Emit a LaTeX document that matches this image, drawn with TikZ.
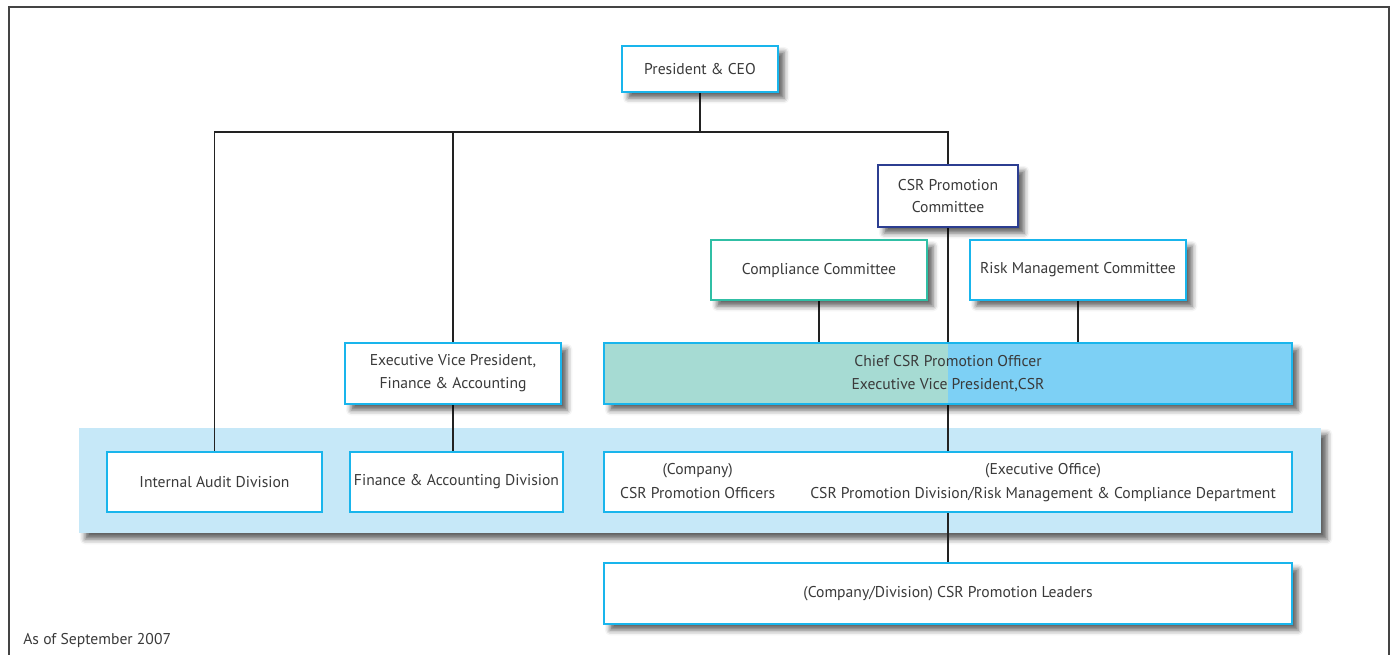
\documentclass[tikz,border=0pt]{standalone}
\usepackage{fontspec}
\setmainfont{PT Sans}
\usetikzlibrary{shadows.blur}
\pgfdeclarelayer{wires}
\pgfdeclarelayer{front}
\pgfsetlayers{main,wires,front}

\definecolor{cyanline}{HTML}{19B5EC}
\definecolor{navyline}{HTML}{2C3E91}
\definecolor{tealline}{HTML}{30BFA5}
\definecolor{bandfill}{HTML}{C6E8F8}
\definecolor{chiefleft}{HTML}{A6DBD3}
\definecolor{chiefright}{HTML}{7DD0F5}
\definecolor{inktext}{HTML}{3A3A3A}
\definecolor{wireline}{HTML}{222222}
\definecolor{frameline}{HTML}{444444}

\begin{document}
\begin{tikzpicture}[x=0.02cm, y=-0.02cm,
  every node/.style={font=\fontsize{8.9pt}{13pt}\selectfont, text=inktext, inner sep=0pt},
  orgbox/.style={draw=cyanline, line width=1.1pt, fill=white, align=center},
  softshadow/.style={blur shadow={shadow xshift=3.5pt, shadow yshift=-3.5pt,
      shadow blur radius=3pt, shadow opacity=62}},
  wire/.style={draw=wireline, line width=0.6pt}]

\useasboundingbox (0,0) rectangle (1390,654);

% outer frame (its lower edge falls below the page)
\draw[frameline, line width=0.9pt] (9,7) rectangle (1389,700);

% shared band behind the division boxes
\node[fill=bandfill, softshadow, minimum width={1242*0.02cm}, minimum height={105*0.02cm}]
  (band) at (700,480.5) {};

\begin{pgfonlayer}{front}
% top level
\node[orgbox, softshadow, minimum width={156*0.02cm}, minimum height={46*0.02cm}]
  (ceo) at (700,69) {President \& CEO};
\node[orgbox, softshadow, draw=navyline, minimum width={140*0.02cm}, minimum height={62*0.02cm}]
  (csrc) at (948,196) {CSR Promotion\\Committee};
\node[orgbox, softshadow, draw=tealline, minimum width={216*0.02cm}, minimum height={60*0.02cm}]
  (comp) at (819,270) {Compliance Committee};
\node[orgbox, softshadow, minimum width={216*0.02cm}, minimum height={60*0.02cm}]
  (risk) at (1078,270) {Risk Management Committee};
\node[orgbox, softshadow, minimum width={216*0.02cm}, minimum height={61*0.02cm}]
  (evpf) at (453,373.5) {Executive Vice President,\\Finance \& Accounting};
\node[orgbox, softshadow, fill=chiefright, minimum width={688*0.02cm}, minimum height={61*0.02cm},
  path picture={\fill[chiefleft] (path picture bounding box.south west)
    rectangle (path picture bounding box.north);}]
  (chief) at (948,373.5) {Chief CSR Promotion Officer\\Executive Vice President,CSR};

% divisions
\node[orgbox, minimum width={215*0.02cm}, minimum height={60*0.02cm}]
  (audit) at (214.5,482) {Internal Audit Division};
\node[orgbox, minimum width={213*0.02cm}, minimum height={60*0.02cm}]
  (fad) at (456.5,482) {Finance \& Accounting Division};
\node[orgbox, minimum width={688*0.02cm}, minimum height={60*0.02cm}]
  (cpo) at (948,482)
  {\setlength{\tabcolsep}{10pt}\renewcommand{\arraystretch}{1.05}%
   \begin{tabular}{@{}c c@{}}
   (Company) & (Executive Office)\\
   CSR Promotion Officers & CSR Promotion Division/Risk Management \& Compliance Department
   \end{tabular}};

\node[orgbox, softshadow, minimum width={688*0.02cm}, minimum height={61*0.02cm}]
  (leaders) at (948,593.5) {(Company/Division) CSR Promotion Leaders};

\node[anchor=west] (asof) at (23,640) {As of September 2007};
\end{pgfonlayer}

% reporting lines
\coordinate (bus) at (700,132);
\begin{pgfonlayer}{wires}
\draw[wire] (ceo.south) -- (bus);
\draw[wire] (bus) -| (audit.north);
\draw[wire] (bus) -| (evpf.north);
\draw[wire] (bus) -| (csrc.north);
\draw[wire] (csrc.south) -- (leaders.north);
\draw[wire] (comp.south) -- (comp.south |- chief.north);
\draw[wire] (risk.south) -- (risk.south |- chief.north);
\draw[wire] (evpf.south) -- (evpf.south |- fad.north);
\end{pgfonlayer}
\end{tikzpicture}
\end{document}
